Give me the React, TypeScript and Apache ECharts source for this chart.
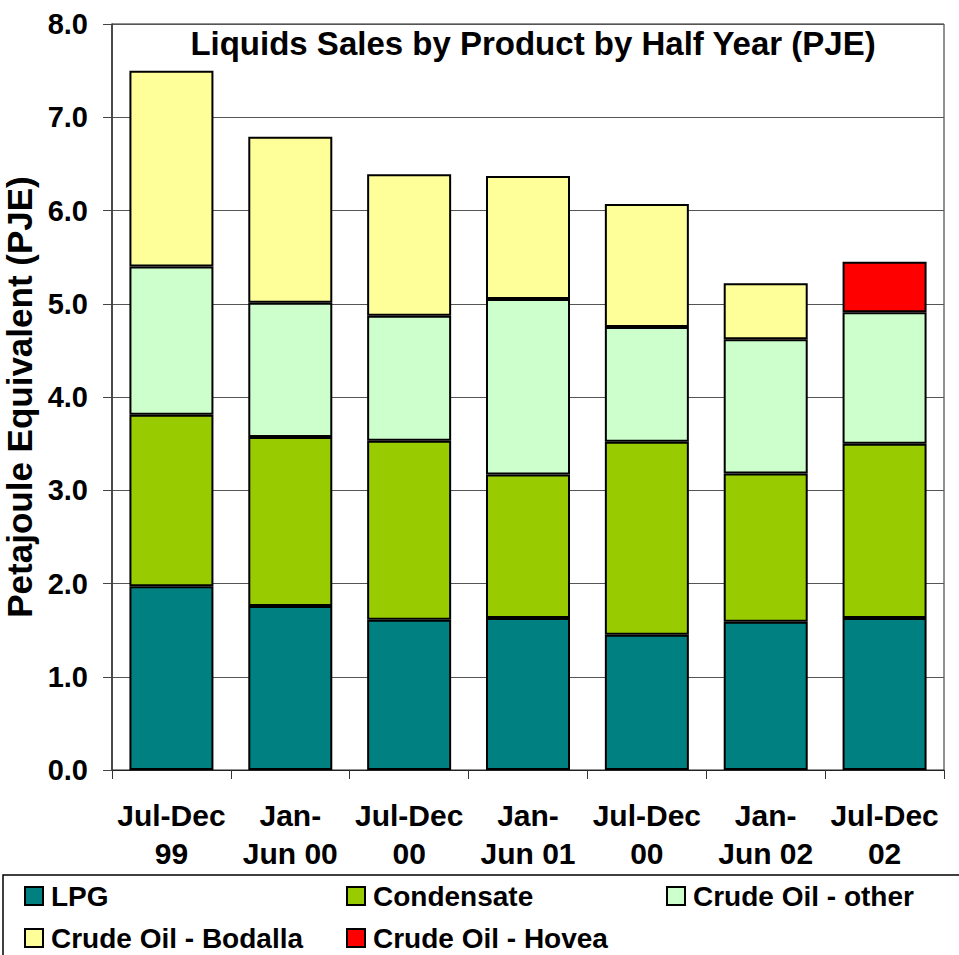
import React, { useEffect, useRef } from "react";
import * as echarts from "echarts";

const categories = [
  "Jul-Dec\n99",
  "Jan-\nJun 00",
  "Jul-Dec\n00",
  "Jan-\nJun 01",
  "Jul-Dec\n00",
  "Jan-\nJun 02",
  "Jul-Dec\n02",
];
const lpg = [1.97, 1.76, 1.61, 1.63, 1.45, 1.59, 1.63];
const condensate = [1.84, 1.81, 1.92, 1.54, 2.07, 1.59, 1.87];
const crudeOther = [1.59, 1.44, 1.34, 1.88, 1.23, 1.44, 1.41];
const crudeBodalla = [2.1, 1.78, 1.52, 1.32, 1.32, 0.6, null];
const crudeHovea = [null, null, null, null, null, null, 0.54];

const seriesNames = ["LPG", "Condensate", "Crude Oil - other", "Crude Oil - Bodalla", "Crude Oil - Hovea"];
const seriesColors = ["#008080", "#99CC00", "#CCFFCC", "#FFFF99", "#FF0000"];
const seriesData = [lpg, condensate, crudeOther, crudeBodalla, crudeHovea];

const titleText = "Liquids Sales by Product by Half Year (PJE)";
const yAxisTitle = "Petajoule Equivalent (PJE)";

const FONT = "'Liberation Sans', Arial, Helvetica, sans-serif";

const legendPos = [
  { left: 24, top: 882 },
  { left: 346, top: 882 },
  { left: 666, top: 882 },
  { left: 24, top: 924 },
  { left: 346, top: 924 },
];

export default function App() {
  const ref = useRef<HTMLDivElement>(null);
  useEffect(() => {
    if (!ref.current) return;
    const chart = echarts.init(ref.current, null, { renderer: "svg" });
    chart.setOption({
      animation: false,
      backgroundColor: "#ffffff",
      grid: {
        left: 112,
        right: 15,
        top: 24,
        bottom: 185,
        containLabel: false,
        outerBoundsMode: "none",
        show: true,
        borderColor: "#222",
        borderWidth: 1,
        backgroundColor: "transparent",
      },
      graphic: [
        {
          type: "text",
          x: 533,
          y: 27,
          style: {
            text: titleText,
            font: `bold 33px ${FONT}`,
            fill: "#000",
            textAlign: "center",
            textVerticalAlign: "top",
          },
          z: 10,
        },
        {
          type: "rect",
          shape: { x: 3, y: 875, width: 980, height: 120 },
          style: { fill: "none", stroke: "#000", lineWidth: 1.5 },
          z: 0,
        },
      ],
      legend: seriesNames.map((name, i) => ({
        data: [name],
        left: legendPos[i].left,
        top: legendPos[i].top,
        padding: 0,
        icon: "rect",
        itemWidth: 18,
        itemHeight: 18,
        selectedMode: false,
        textStyle: {
          fontFamily: FONT,
          fontWeight: "bold",
          fontSize: 28,
          color: "#000",
          lineHeight: 28,
          padding: [0, 0, 0, 3],
        },
      })),
      xAxis: {
        type: "category",
        data: categories,
        axisLine: { lineStyle: { color: "#222", width: 1 } },
        axisTick: { show: true, length: 9, alignWithLabel: false, lineStyle: { color: "#333" } },
        axisLabel: {
          interval: 0,
          margin: 26,
          fontFamily: FONT,
          fontWeight: "bold",
          fontSize: 30,
          lineHeight: 38,
          color: "#000",
        },
      },
      yAxis: {
        type: "value",
        min: 0,
        max: 8,
        interval: 1,
        name: yAxisTitle,
        nameLocation: "middle",
        nameGap: 75,
        nameRotate: 90,
        nameTextStyle: {
          fontFamily: FONT,
          fontWeight: "bold",
          fontSize: 35,
          color: "#000",
        },
        axisLine: { show: true, lineStyle: { color: "#333", width: 1.5 } },
        axisTick: { show: true, length: 9, lineStyle: { color: "#444" } },
        splitLine: { show: true, lineStyle: { color: "#555", width: 1 } },
        axisLabel: {
          margin: 24,
          fontFamily: FONT,
          fontWeight: "bold",
          fontSize: 29,
          color: "#000",
          formatter: (v: number) => v.toFixed(1),
        },
      },
      series: seriesNames.map((name, i) => ({
        name,
        type: "bar",
        stack: "total",
        barWidth: 84,
        data: seriesData[i],
        itemStyle: {
          color: seriesColors[i],
          borderColor: "#000",
          borderWidth: 2,
        },
      })),
    });
    return () => chart.dispose();
  }, []);
  return (
    <div
      ref={ref}
      style={{ position: "fixed", left: 0, top: 0, width: 959, height: 955 }}
    />
  );
}
